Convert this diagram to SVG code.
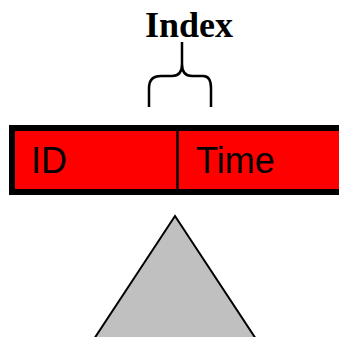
<svg xmlns="http://www.w3.org/2000/svg" width="339" height="337" viewBox="0 0 339 337">
  <style>
    .label { font-family: "Liberation Sans", Arial, sans-serif; font-size: 36px; fill: #000; }
    .title { font-family: "Liberation Serif", "Times New Roman", serif; font-size: 36px; font-weight: bold; fill: #000; }
    .brace { fill: none; stroke: #000; stroke-width: 2.5; }
  </style>
  <rect width="339" height="337" fill="#fff"/>
  <g id="index-label">
    <text class="title" x="145" y="37">Index</text>
    <path class="brace" d="M149,107 L149,88 Q149,76 161,76 L172,76 Q182,76 182,64 L182,42 M182,64 Q182,76 192,76 L203,76 Q211,76 211,88 L211,107"/>
  </g>
  <g id="record">
    <rect x="12" y="128" width="340" height="64" fill="#ff0000" stroke="#000" stroke-width="6"/>
    <line x1="177.5" y1="131" x2="177.5" y2="189" stroke="#000" stroke-width="2.5"/>
    <text class="label" x="31" y="173">ID</text>
    <text class="label" x="196" y="173">Time</text>
  </g>
  <g id="tree">
    <polygon points="175,216 256,339 94,339" fill="#c0c0c0" stroke="#000" stroke-width="2"/>
  </g>
</svg>
